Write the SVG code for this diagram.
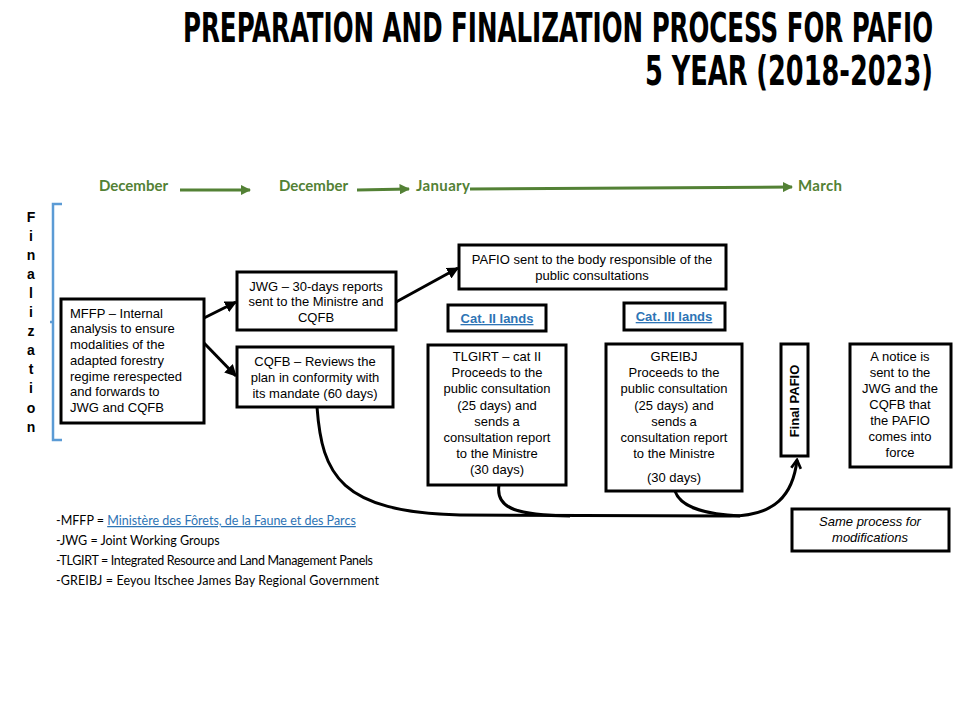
<svg xmlns="http://www.w3.org/2000/svg" width="960" height="720" viewBox="0 0 960 720">
<style>
.box{fill:#fff;stroke:#000;stroke-width:3}
.t{font-family:"Liberation Sans",Arial,sans-serif;font-size:13px;fill:#000;text-anchor:middle}
.tl{text-anchor:start}
.mon{font-family:Lato,"Open Sans",sans-serif;font-weight:bold;font-size:15px;fill:#538135}
.ttl{font-family:"DejaVu Sans Condensed","DejaVu Sans",sans-serif;font-weight:bold;font-size:26px;fill:#000}
.leg{font-family:Lato,"Open Sans",sans-serif;font-size:12.5px;fill:#000}
.link{fill:#2E74B5;text-decoration:underline}
.cat{font-family:"Liberation Sans",Arial,sans-serif;font-weight:bold;font-size:13px;fill:#2E74B5;text-decoration:underline;text-anchor:middle}
.conn{fill:none;stroke:#000;stroke-width:3}
.garr{fill:none;stroke:#538135;stroke-width:3}
.fin{font-family:"Liberation Sans",Arial,sans-serif;font-weight:bold;font-size:14px;fill:#000;text-anchor:middle}
</style>
<defs>
<marker id="ah" viewBox="0 0 10 10" refX="9" refY="5" markerWidth="4" markerHeight="4" orient="auto" markerUnits="strokeWidth">
<path d="M0,0 L10,5 L0,10 z" fill="#000"/>
</marker>
<marker id="ga" viewBox="0 0 10 10" refX="9" refY="5" markerWidth="3.5" markerHeight="3.5" orient="auto" markerUnits="strokeWidth">
<path d="M0,0 L10,5 L0,10 z" fill="#538135"/>
</marker>
<marker id="oa" viewBox="0 0 10 10" refX="8" refY="5" markerWidth="4" markerHeight="4" orient="auto" markerUnits="strokeWidth">
<path d="M1,1 L8,5 L1,9" fill="none" stroke="#000" stroke-width="2.2"/>
</marker>
</defs>

<g id="title" transform="scale(1,1.55)">
<text class="ttl" x="183" y="27.1" textLength="750" lengthAdjust="spacingAndGlyphs">PREPARATION AND FINALIZATION PROCESS FOR PAFIO</text>
<text class="ttl" x="645" y="54.8" textLength="288" lengthAdjust="spacingAndGlyphs">5 YEAR (2018-2023)</text>
</g>

<g id="timeline">
<text class="mon" x="99" y="191" textLength="69">December</text>
<text class="mon" x="279" y="191" textLength="69">December</text>
<text class="mon" x="416" y="191" textLength="54">January</text>
<text class="mon" x="798" y="191" textLength="44">March</text>
<line class="garr" x1="180" y1="190" x2="250" y2="190" marker-end="url(#ga)"/>
<line class="garr" x1="357" y1="190" x2="409" y2="189" marker-end="url(#ga)"/>
<line class="garr" x1="470" y1="189" x2="792" y2="187" marker-end="url(#ga)"/>
</g>

<g id="finalization">
<path d="M62,204 L53,204 L53,440 L62,440 M53,322 L50,322" fill="none" stroke="#5B9BD5" stroke-width="2.5"/>
<g class="fin">
<text x="31" y="222">F</text>
<text x="31" y="241">i</text>
<text x="31" y="260">n</text>
<text x="31" y="279">a</text>
<text x="31" y="298">l</text>
<text x="31" y="317">i</text>
<text x="31" y="336">z</text>
<text x="31" y="355">a</text>
<text x="31" y="374">t</text>
<text x="31" y="393">i</text>
<text x="31" y="413">o</text>
<text x="31" y="432">n</text>
</g>
</g>

<g id="connectors">
<line class="conn" x1="204" y1="318" x2="236" y2="302" marker-end="url(#ah)"/>
<line class="conn" x1="204" y1="343" x2="236" y2="376" marker-end="url(#ah)"/>
<line class="conn" x1="396" y1="302" x2="458" y2="268" marker-end="url(#ah)"/>
<path class="conn" d="M317,407 C322,475 340,512 460,515 L730,516 C775,516 793,495 797,460" marker-end="url(#oa)"/>
<path class="conn" d="M499,485 C495,510 520,515 570,516"/>
<path class="conn" d="M675,491 C680,506 700,514 740,516"/>
</g>

<g id="mffp">
<rect class="box" x="61" y="299" width="143" height="124"/>
<text class="t tl" x="70" y="318">MFFP – Internal</text>
<text class="t tl" x="70" y="333">analysis to ensure</text>
<text class="t tl" x="70" y="349">modalities of the</text>
<text class="t tl" x="70" y="365">adapted forestry</text>
<text class="t tl" x="70" y="381">regime rerespected</text>
<text class="t tl" x="70" y="396">and forwards to</text>
<text class="t tl" x="70" y="412">JWG and CQFB</text>
</g>

<g id="jwg">
<rect class="box" x="237" y="272" width="159" height="58"/>
<text class="t" x="316" y="291">JWG – 30-days reports</text>
<text class="t" x="316" y="306">sent to the Ministre and</text>
<text class="t" x="316" y="322">CQFB</text>
</g>

<g id="cqfb">
<rect class="box" x="237" y="347" width="156" height="60"/>
<text class="t" x="315" y="366">CQFB – Reviews the</text>
<text class="t" x="315" y="382">plan in conformity with</text>
<text class="t" x="315" y="398">its mandate (60 days)</text>
</g>

<g id="pafio-sent">
<rect class="box" x="459" y="245" width="267" height="44"/>
<text class="t" x="592" y="264">PAFIO sent to the body responsible of the</text>
<text class="t" x="592" y="280">public consultations</text>
</g>

<g id="cat2">
<rect class="box" x="448" y="305" width="98" height="26"/>
<text class="cat" x="497" y="323">Cat. II lands</text>
</g>

<g id="cat3">
<rect class="box" x="624" y="303" width="101" height="27"/>
<text class="cat" x="674" y="321">Cat. III lands</text>
</g>

<g id="tlgirt">
<rect class="box" x="428" y="345" width="138" height="140"/>
<text class="t" x="497" y="361">TLGIRT  – cat II</text>
<text class="t" x="497" y="377">Proceeds to the</text>
<text class="t" x="497" y="393">public consultation</text>
<text class="t" x="497" y="410">(25 days) and</text>
<text class="t" x="497" y="426">sends a</text>
<text class="t" x="497" y="442">consultation report</text>
<text class="t" x="497" y="458">to the Ministre</text>
<text class="t" x="497" y="474">(30 days)</text>
</g>

<g id="greibj">
<rect class="box" x="606" y="344" width="136" height="147"/>
<text class="t" x="674" y="361">GREIBJ</text>
<text class="t" x="674" y="377">Proceeds to the</text>
<text class="t" x="674" y="393">public consultation</text>
<text class="t" x="674" y="410">(25 days) and</text>
<text class="t" x="674" y="426">sends a</text>
<text class="t" x="674" y="442">consultation report</text>
<text class="t" x="674" y="458">to the Ministre</text>
<text class="t" x="674" y="482">(30 days)</text>
</g>

<g id="final-pafio">
<rect class="box" x="781" y="344" width="27" height="112"/>
<text class="t" x="0" y="0" font-weight="bold" transform="translate(799,401) rotate(-90)">Final PAFIO</text>
</g>

<g id="notice">
<rect class="box" x="850" y="344" width="101" height="123"/>
<text class="t" x="900" y="361">A notice is</text>
<text class="t" x="900" y="377">sent to the</text>
<text class="t" x="900" y="393">JWG and the</text>
<text class="t" x="900" y="409">CQFB that</text>
<text class="t" x="900" y="425">the PAFIO</text>
<text class="t" x="900" y="441">comes into</text>
<text class="t" x="900" y="457">force</text>
</g>

<g id="same-process">
<rect class="box" x="792" y="509" width="157" height="42"/>
<text class="t" x="870" y="526" font-style="italic">Same process for</text>
<text class="t" x="870" y="542" font-style="italic">modifications</text>
</g>

<g id="legend">
<text class="leg" x="56" y="525">-MFFP = <tspan class="link">Ministère des Fôrets, de la Faune et des Parcs</tspan></text>
<text class="leg" x="56" y="545">-JWG = Joint  Working Groups</text>
<text class="leg" x="56" y="565" textLength="317">-TLGIRT = Integrated Resource and Land Management Panels</text>
<text class="leg" x="56" y="585" textLength="323">-GREIBJ = Eeyou  Itschee James Bay Regional Government</text>
</g>
</svg>
